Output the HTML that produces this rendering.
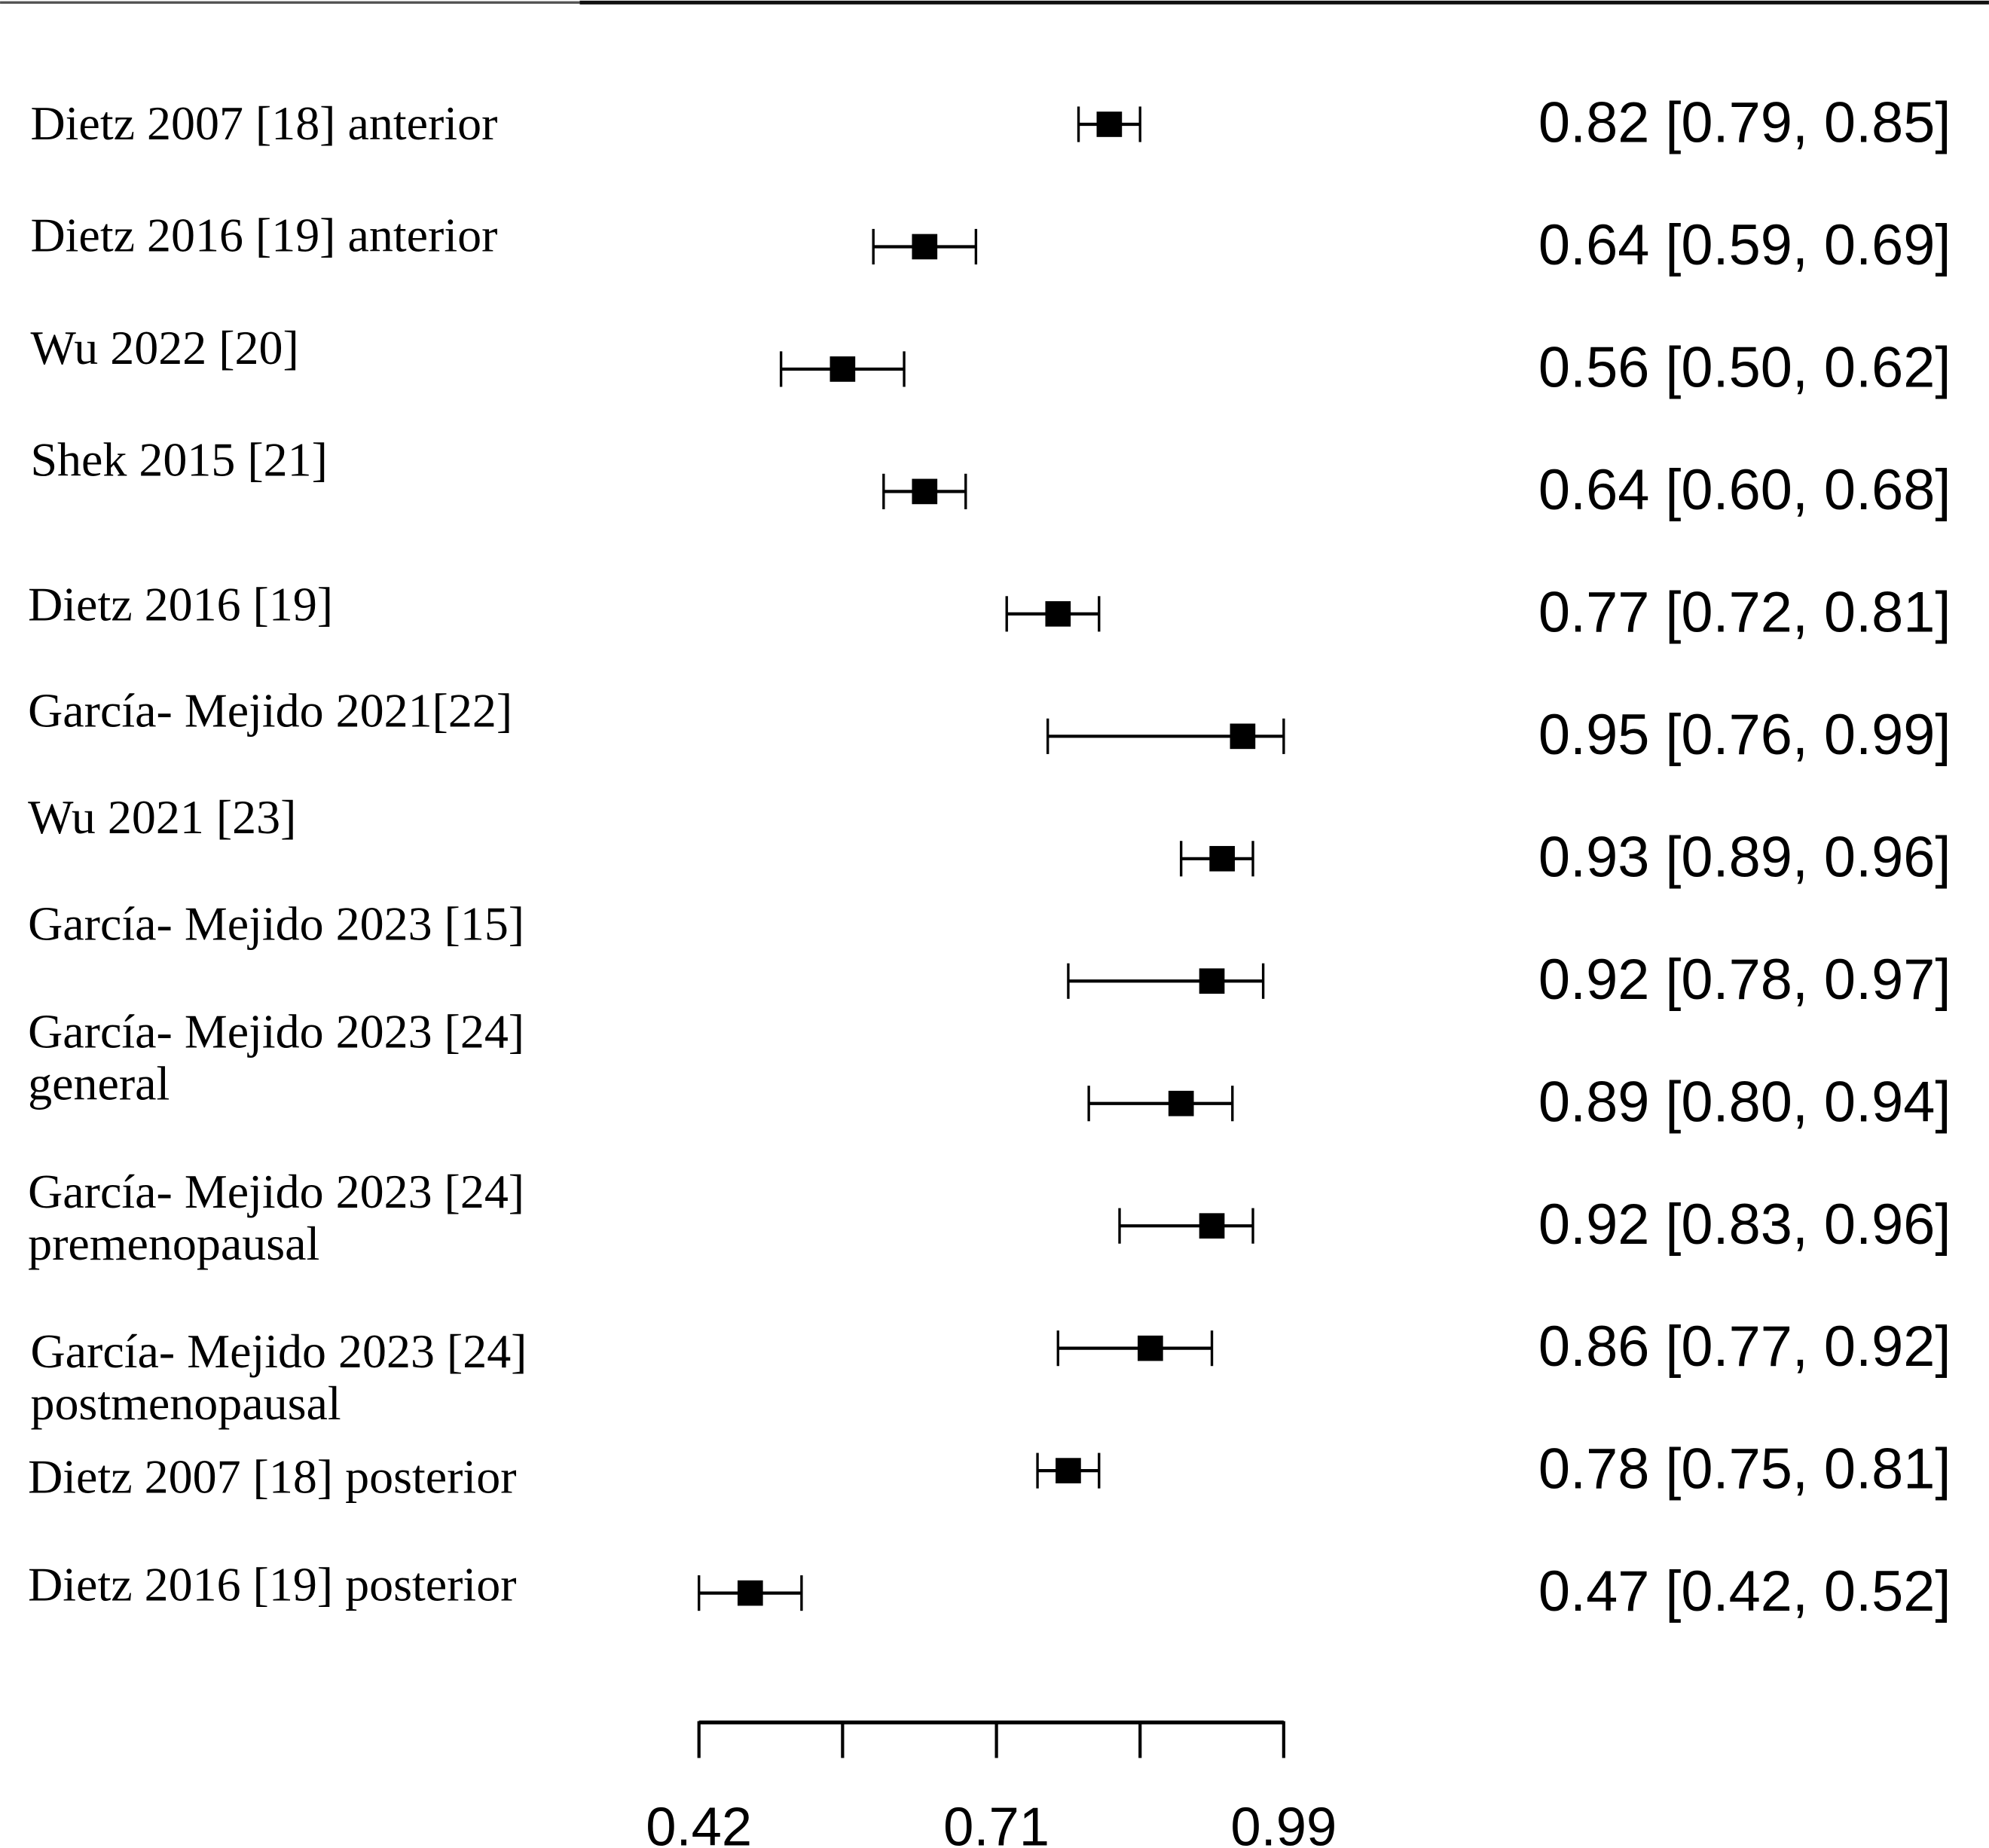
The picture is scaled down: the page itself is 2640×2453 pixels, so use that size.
<!DOCTYPE html>
<html><head><meta charset="utf-8"><style>html,body{margin:0;padding:0;background:#fff}svg{display:block}</style></head>
<body>
<svg width="2640" height="2453" viewBox="0 0 1568 1457" xmlns="http://www.w3.org/2000/svg">
<rect x="0" y="0" width="1568" height="1457" fill="#fff"/>
<line x1="0" y1="2" x2="457" y2="2" stroke="#555" stroke-width="2"/>
<line x1="457" y1="2" x2="1568" y2="2" stroke="#111" stroke-width="3"/>
<g id="labels"></g>
<g id="marks"></g>
<g id="axis"></g>
</svg>
<script>
const studyLabels = [["Dietz 2007 [18] anterior"],["Dietz 2016 [19] anterior"],["Wu 2022 [20]"],["Shek 2015 [21]"],["Dietz 2016 [19]"],["García- Mejido 2021[22]"],["Wu 2021 [23]"],["García- Mejido 2023 [15]"],["García- Mejido 2023 [24]","general"],["García- Mejido 2023 [24]","premenopausal"],["García- Mejido 2023 [24]","postmenopausal"],["Dietz 2007 [18] posterior"],["Dietz 2016 [19] posterior"]];
const estimates = [0.82,0.64,0.56,0.64,0.77,0.95,0.93,0.92,0.89,0.92,0.86,0.78,0.47];
const lowerCI = [0.79,0.59,0.50,0.60,0.72,0.76,0.89,0.78,0.80,0.83,0.77,0.75,0.42];
const upperCI = [0.85,0.69,0.62,0.68,0.81,0.99,0.96,0.97,0.94,0.96,0.92,0.81,0.52];
const tickValues = [0.42,0.56,0.71,0.85,0.99];
const tickLabels = ["0.42","","0.71","","0.99"];

const NS="http://www.w3.org/2000/svg";
const xScale = v => 551 + (v-0.42)*(1012-551)/(0.99-0.42);
const yRow = i => 98 + i*96.5;
const labelBase = [110,198,287,375,489,573,657,741,826,952,1078,1177,1262];
const labelX = [24,24,24,24,22,22,22,22,22,22,24,22,22];
function mk(tag, attrs, parent){const e=document.createElementNS(NS,tag);for(const k in attrs)e.setAttribute(k,attrs[k]);parent.appendChild(e);return e;}
const gl=document.getElementById('labels'), gm=document.getElementById('marks'), ga=document.getElementById('axis');
const fmt=v=>v.toFixed(2);
estimates.forEach((est,i)=>{
  const y=yRow(i);
  studyLabels[i].forEach((s,j)=>{
    const t=mk('text',{x:labelX[i],y:labelBase[i]+j*41,'font-family':'"Liberation Serif", serif','font-size':38,fill:'#000'},gl);
    
    
    t.textContent=s;
  });
  const g=mk('g',{},gm);
  
  
  const x1=xScale(lowerCI[i]), x2=xScale(upperCI[i]), xm=xScale(est);
  const ci=mk('line',{x1:x1,y1:y,x2:x2,y2:y,stroke:'#000','stroke-width':2.5},g);
  
  
  mk('line',{x1:x1,y1:y-14,x2:x1,y2:y+14,stroke:'#000','stroke-width':2},g);
  mk('line',{x1:x2,y1:y-14,x2:x2,y2:y+14,stroke:'#000','stroke-width':2},g);
  const sq=mk('rect',{x:xm-10,y:y-10,width:20,height:20,fill:'#000'},g);
  
  
  const t=mk('text',{x:1538,y:y+14,'text-anchor':'end','font-family':'"Liberation Sans", sans-serif','font-size':45,fill:'#000'},gl);
  
  
  t.textContent=fmt(est)+' ['+fmt(lowerCI[i])+', '+fmt(upperCI[i])+']';
});
const ax=mk('line',{x1:xScale(tickValues[0]),y1:1358,x2:xScale(tickValues[tickValues.length-1]),y2:1358,stroke:'#000','stroke-width':3},ga);


tickValues.forEach((v,i)=>{
  const tk=mk('line',{x1:xScale(v),y1:1357,x2:xScale(v),y2:1386,stroke:'#000','stroke-width':2.5},ga);
  
  
  if(tickLabels[i]){
    const t=mk('text',{x:xScale(v),y:1455,'text-anchor':'middle','font-family':'"Liberation Sans", sans-serif','font-size':43,fill:'#000'},ga);
    
    
    t.textContent=tickLabels[i];
  }
});
</script>
</body></html>
